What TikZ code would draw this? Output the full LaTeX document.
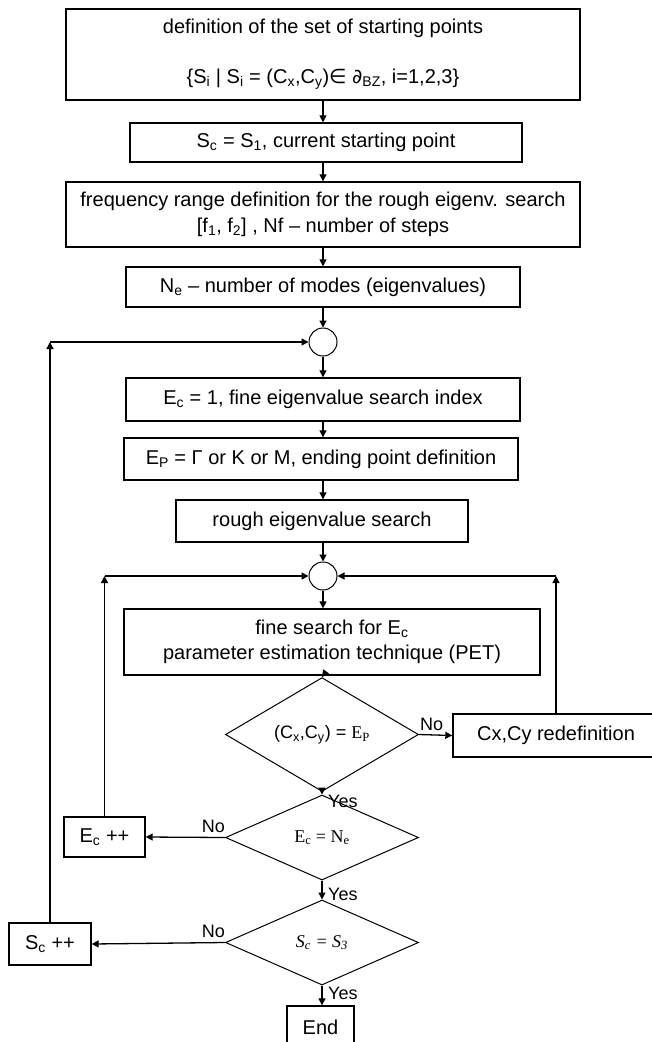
\documentclass[tikz,border=0pt]{standalone}
\usepackage{fontspec}
\setmainfont{Liberation Sans}
\newfontfamily\dvsans{DejaVu Sans}
\newfontfamily\lserif{Liberation Serif}
\usetikzlibrary{shapes.geometric}
\usetikzlibrary{arrows.meta}
\usetikzlibrary{calc}
\newcommand{\ix}[1]{\textsubscript{#1}}
\tikzset{box/.style={draw=#1,line width=1.4pt,inner sep=0pt,align=center,font=\fontsize{20}{24}\selectfont},box/.default=black}
\tikzset{decision/.style={draw=#1,diamond,line width=1pt,inner sep=0pt,minimum width=193pt,minimum height=85pt,font=\fontsize{18}{22}\selectfont},decision/.default=black}
\tikzset{junction/.style={draw=#1,circle,line width=1pt,minimum size=28pt,inner sep=0pt},junction/.default=black}
\tikzset{flow/.style={color=#1,line width=1.3pt,-{Triangle[length=7pt,width=7pt]}},flow/.default=black}
\tikzset{answer/.style={inner sep=0pt,font=\fontsize{18}{22}\selectfont}}

\begin{document}
\begin{tikzpicture}[x=1pt,y=-1pt]
	\useasboundingbox (0,0) rectangle (651,1042);

	% main column
	\node [box,minimum width=514pt,minimum height=91pt] (Def) at (323,54.5)
		{definition of the set of starting points\\[26pt]
		 \{S\ix{i} | S\ix{i} = (C\ix{x},C\ix{y}){\dvsans ∈} {\dvsans ∂}\ix{BZ}, i=1,2,3\}};
	\node [box,minimum width=392pt,minimum height=39pt] (Cur) at (326,142.5)
		{S\ix{c} = S\ix{1}, current starting point};
	\node [box,minimum width=514pt,minimum height=65pt] (Freq) at (323,214.5)
		{frequency range definition for the rough eigenv. search\\[2pt]
		 [f\ix{1}, f\ix{2}] , Nf -- number of steps};
	\node [box,minimum width=394pt,minimum height=40pt] (Modes) at (323,287)
		{N\ix{e} -- number of modes (eigenvalues)};
	\node [junction] (J1) at (323,342) {};
	\node [box,minimum width=394pt,minimum height=43pt] (Init) at (323,399.5)
		{E\ix{c} = 1, fine eigenvalue search index};
	\node [box,minimum width=394pt,minimum height=42pt] (Ending) at (321,459)
		{E\ix{P} = Γ or K or M, ending point definition};
	\node [box,minimum width=292pt,minimum height=42pt] (Rough) at (322,521)
		{rough eigenvalue search};
	\node [junction] (J2) at (323,576) {};
	\node [box,minimum width=416pt,minimum height=66pt] (Fine) at (332,642)
		{fine search for E\ix{c}\\[1pt]
		 parameter estimation technique (PET)};
	\node [decision] (Test) at (322,734.5) {(C\ix{x},C\ix{y}) = {\lserif E\ix{P}}};
	\node [decision] (Count) at (322,837.5) {\lserif E\ix{c} = N\ix{e}};
	\node [decision] (Last) at (322,942.5) {\lserif\itshape S\ix{c} = S\ix{3}};
	\node [box,minimum width=67pt,minimum height=42pt] (End) at (320.5,1027) {End};

	% side boxes
	\node [box,minimum width=206pt,minimum height=43pt] (Redef) at (556,735.5)
		{Cx,Cy redefinition};
	\node [box,minimum width=81pt,minimum height=40pt] (Inc) at (104.5,837) {E\ix{c} ++};
	\node [box,minimum width=82pt,minimum height=42pt] (Next) at (50,944) {S\ix{c} ++};

	\draw [flow] (Def.south -| J1) -- (Cur.north -| J1);
	\draw [flow] (Cur.south -| J1) -- (Freq.north -| J1);
	\draw [flow] (Freq.south -| J1) -- (Modes.north -| J1);
	\draw [flow] (Modes.south -| J1) -- (J1.north);
	\draw [flow] (J1.south) -- (Init.north -| J1);
	\draw [flow] (Init.south -| J1) -- (Ending.north -| J1);
	\draw [flow] (Ending.south -| J1) -- (Rough.north -| J1);
	\draw [flow] (Rough.south -| J2) -- (J2.north);
	\draw [flow] (J2.south) -- (Fine.north -| J2);
	\draw [flow] (Fine.south -| J2) -- (Test.north);
	\draw [flow] (Test.south) -- (Count.north);
	\draw [flow] (Count.south) -- (Last.north);
	\draw [flow] (Last.south) -- (End.north -| Last.south);

	\draw [flow] (Test.east) -- (Redef.west);
	\draw [flow] (Redef.north) -- (Redef.north |- J2);
	\draw [flow] (Redef.north |- J2) -- (J2.east);
	\draw [flow] (Count.west) -- (Inc.east);
	\draw [flow] (Inc.north) -- (Inc.north |- J2);
	\draw [flow] (Inc.north |- J2) -- (J2.west);
	\draw [flow] (Last.west) -- (Next.east);
	\draw [flow] (Next.north) -- (Next.north |- J1);
	\draw [flow] (Next.north |- J1) -- (J1.west);

	\node [answer,anchor=south west] (No1) at ([xshift=1pt,yshift=4pt]Test.east) {No};
	\node [answer,anchor=south east] (No2) at ([yshift=5pt]Count.west) {No};
	\node [answer,anchor=south east] (No3) at ([yshift=5pt]Last.west) {No};
	\node [answer,anchor=west] (Yes1) at ([xshift=6pt,yshift=-9pt]Test.south) {Yes};
	\node [answer,anchor=west] (Yes2) at ([xshift=6pt,yshift=-14pt]Count.south) {Yes};
	\node [answer,anchor=west] (Yes3) at ([xshift=6pt,yshift=-8pt]Last.south) {Yes};
\end{tikzpicture}
\end{document}
